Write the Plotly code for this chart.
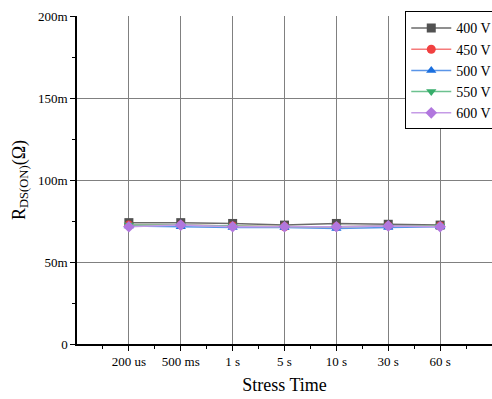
import plotly.graph_objects as go

categories = ["200 us", "500 ms", "1 s", "5 s", "10 s", "30 s", "60 s"]
series_names = ["400 V", "450 V", "500 V", "550 V", "600 V"]
v400 = [74.0, 74.0, 73.5, 72.5, 73.5, 73.0, 72.5]
v450 = [72.5, 72.5, 72.0, 71.5, 71.5, 72.0, 72.0]
v500 = [72.0, 71.5, 71.0, 71.0, 70.5, 71.0, 71.5]
v550 = [72.5, 72.5, 72.0, 71.5, 71.5, 72.0, 72.0]
v600 = [71.5, 72.5, 71.5, 71.5, 71.5, 72.0, 71.5]
y_tickvals = [0, 50, 100, 150, 200]
y_ticktext = ["0", "50m", "100m", "150m", "200m"]

values = [v400, v450, v500, v550, v600]
marker_colors = ["#515151", "#F14040", "#1A6FDF", "#37AD6B", "#B177DE"]
line_colors = ["#6a6a6a", "#f57a7a", "#5a95e8", "#6cc18f", "#c59be6"]
symbols = ["square", "circle", "triangle-up", "triangle-down", "diamond"]

fig = go.Figure()
for name, vals, mc, lc, sym in zip(series_names, values, marker_colors, line_colors, symbols):
    fig.add_trace(go.Scatter(
        x=list(range(len(categories))), y=vals, name=name, mode="lines+markers",
        line=dict(color=lc, width=1.5),
        marker=dict(color=mc, symbol=sym, size=9),
    ))

font = "Liberation Serif, Times New Roman, serif"
fig.update_layout(
    width=492, height=399,
    margin=dict(l=77, r=0, t=16, b=55, autoexpand=False),
    paper_bgcolor="white", plot_bgcolor="white",
    font=dict(family=font, color="black", size=13),
    showlegend=True,
    legend=dict(x=0.791, xanchor="left", y=1.014, yanchor="top",
                bgcolor="white", bordercolor="black", borderwidth=1,
                font=dict(size=14, family=font), tracegroupgap=0,
                itemwidth=40),
    xaxis=dict(
        range=[-1, 7],
        tickmode="array", tickvals=list(range(len(categories))), ticktext=categories,
        showgrid=True, gridcolor="#808080", gridwidth=1,
        showline=True, linecolor="black", linewidth=1.5,
        ticks="outside", ticklen=5, tickcolor="black",
        minor=dict(tickvals=[i - 0.5 for i in range(len(categories) + 1)],
                   ticks="outside", ticklen=3, tickcolor="black", showgrid=False),
        zeroline=False,
        title=dict(text="Stress Time", font=dict(size=18, family=font), standoff=10),
        tickfont=dict(size=13, family=font),
    ),
    yaxis=dict(
        range=[0, 200],
        tickmode="array", tickvals=y_tickvals, ticktext=y_ticktext,
        showgrid=True, gridcolor="#808080", gridwidth=1,
        showline=True, linecolor="black", linewidth=1.5,
        ticks="outside", ticklen=5, tickcolor="black",
        minor=dict(tickvals=[25, 75, 125, 175], ticks="outside", ticklen=3,
                   tickcolor="black", showgrid=False),
        zeroline=False,
        title=dict(text="R<sub>DS(ON)</sub>(Ω)", font=dict(size=18, family=font), standoff=8),
        tickfont=dict(size=13, family=font),
    ),
)

fig.write_html("out.html", config={"displayModeBar": False},
               post_script="document.body.style.margin='0';document.body.style.overflow='hidden';")
